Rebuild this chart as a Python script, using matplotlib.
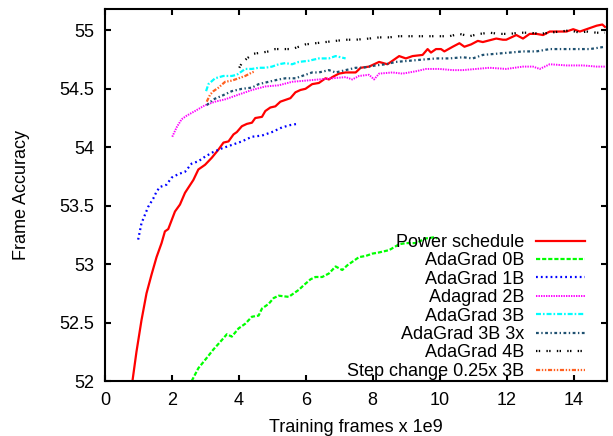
import matplotlib
matplotlib.use('Agg')
import matplotlib.pyplot as plt

plt.rcParams['font.family'] = ['Liberation Sans', 'DejaVu Sans']
plt.rcParams['lines.scale_dashes'] = False

# Power schedule
x_pow = [0.82, 0.94, 1.09, 1.24, 1.39, 1.54, 1.69, 1.79, 1.89, 2.09, 2.24, 2.39, 2.64, 2.79,
         2.99, 3.19, 3.39, 3.54, 3.69, 3.84, 3.94, 4.09, 4.24, 4.39, 4.49, 4.69, 4.79, 4.94,
         5.09, 5.24, 5.54, 5.69, 5.84, 5.99, 6.19, 6.39, 6.59, 6.69, 6.79, 6.99, 7.19, 7.49,
         7.64, 7.89, 8.19, 8.44, 8.59, 8.79, 8.99, 9.19, 9.49, 9.64, 9.74, 9.89, 10.04, 10.14,
         10.39, 10.59, 10.74, 10.94, 11.14, 11.29, 11.69, 11.89, 11.99, 12.29, 12.49, 12.69,
         12.89, 13.09, 13.29, 13.59, 13.79, 13.99, 14.19, 14.49, 14.69, 14.86, 14.94]
y_pow = [52.0, 52.25, 52.52, 52.75, 52.91, 53.06, 53.18, 53.28, 53.30, 53.45, 53.51, 53.61, 53.72, 53.81,
         53.85, 53.91, 53.98, 54.04, 54.05, 54.11, 54.13, 54.18, 54.20, 54.21, 54.25, 54.26, 54.31, 54.34,
         54.35, 54.39, 54.42, 54.47, 54.49, 54.50, 54.54, 54.55, 54.59, 54.58, 54.60, 54.63, 54.64, 54.64,
         54.68, 54.69, 54.73, 54.71, 54.74, 54.78, 54.76, 54.78, 54.79, 54.84, 54.81, 54.84, 54.84, 54.82,
         54.86, 54.89, 54.86, 54.88, 54.91, 54.90, 54.93, 54.92, 54.92, 54.96, 54.93, 54.97,
         54.97, 54.96, 54.99, 54.99, 54.99, 55.01, 54.99, 55.02, 55.04, 55.05, 55.03]

# AdaGrad 0B
x_0b = [2.59, 2.79, 2.99, 3.24, 3.49, 3.64, 3.79, 3.99, 4.19, 4.39, 4.59, 4.69, 4.89, 5.04, 5.19,
        5.49, 5.64, 5.79, 5.94, 6.14, 6.29, 6.49, 6.69, 6.89, 7.09, 7.24, 7.39, 7.59, 7.79, 7.99,
        8.19, 8.49, 8.79, 8.99, 9.29, 9.59, 9.84, 9.93]
y_0b = [52.0, 52.11, 52.18, 52.27, 52.35, 52.40, 52.38, 52.45, 52.49, 52.55, 52.56, 52.62, 52.66, 52.71, 52.73,
        52.72, 52.75, 52.78, 52.82, 52.87, 52.89, 52.89, 52.92, 52.98, 52.95, 52.99, 53.02, 53.06, 53.07, 53.09,
        53.10, 53.12, 53.17, 53.18, 53.18, 53.22, 53.23, 53.22]

# AdaGrad 1B
x_1b = [0.99, 1.04, 1.09, 1.19, 1.29, 1.44, 1.54, 1.64, 1.84, 1.99, 2.19, 2.39, 2.59, 2.79, 2.99,
        3.24, 3.49, 3.79, 4.09, 4.39, 4.69, 4.99, 5.29, 5.54, 5.74]
y_1b = [53.21, 53.28, 53.35, 53.42, 53.49, 53.56, 53.62, 53.66, 53.68, 53.74, 53.77, 53.79, 53.86, 53.88, 53.92,
        53.96, 53.99, 54.02, 54.05, 54.09, 54.10, 54.13, 54.17, 54.19, 54.20]

# Adagrad 2B
x_2b = [2.01, 2.14, 2.29, 2.44, 2.69, 2.99, 3.29, 3.59, 3.99, 4.39, 4.79, 5.19, 5.59, 5.99, 6.39,
        6.79, 7.19, 7.39, 7.59, 7.89, 8.04, 8.19, 8.59, 8.89, 9.29, 9.59, 9.99, 10.39, 10.69, 11.09,
        11.49, 11.99, 12.49, 12.79, 12.99, 13.29, 13.79, 14.29, 14.69, 14.94]
y_2b = [54.09, 54.17, 54.24, 54.27, 54.31, 54.36, 54.39, 54.41, 54.45, 54.49, 54.52, 54.53, 54.56, 54.57, 54.58,
        54.59, 54.60, 54.58, 54.61, 54.62, 54.58, 54.63, 54.64, 54.63, 54.65, 54.67, 54.67, 54.66, 54.66, 54.67,
        54.68, 54.67, 54.69, 54.69, 54.67, 54.71, 54.70, 54.70, 54.69, 54.69]

# AdaGrad 3B
x_3b = [3.02, 3.09, 3.29, 3.54, 3.79, 3.94, 4.09, 4.19, 4.39, 4.59, 4.79, 4.99, 5.19, 5.39, 5.59,
        5.79, 6.09, 6.39, 6.69, 6.89, 7.04, 7.19]
y_3b = [54.48, 54.54, 54.59, 54.61, 54.61, 54.62, 54.65, 54.67, 54.67, 54.68, 54.68, 54.69, 54.71, 54.72, 54.71,
        54.73, 54.74, 54.76, 54.76, 54.78, 54.77, 54.76]

# AdaGrad 3B 3x
x_3x = [3.04, 3.24, 3.49, 3.79, 4.09, 4.39, 4.59, 4.89, 5.19, 5.39, 5.69, 5.99, 6.19, 6.39, 6.69,
        6.89, 7.19, 7.49, 7.69, 8.09, 8.39, 8.69, 9.09, 9.49, 9.89, 10.29, 10.69, 10.99, 11.29, 11.69,
        12.09, 12.49, 12.89, 13.29, 13.69, 14.09, 14.49, 14.94]
y_3x = [54.36, 54.41, 54.44, 54.48, 54.50, 54.51, 54.54, 54.56, 54.58, 54.59, 54.59, 54.62, 54.64, 54.64, 54.66,
        54.64, 54.66, 54.68, 54.68, 54.70, 54.71, 54.73, 54.74, 54.75, 54.76, 54.76, 54.77, 54.76, 54.79, 54.80,
        54.81, 54.82, 54.82, 54.84, 54.84, 54.84, 54.84, 54.86]

# AdaGrad 4B
x_4b = [4.01, 4.09, 4.24, 4.44, 4.69, 4.89, 5.09, 5.39, 5.59, 5.79, 5.99, 6.29, 6.59, 6.89, 7.19,
        7.49, 7.89, 8.19, 8.49, 8.79, 9.09, 9.39, 9.69, 9.99, 10.29, 10.59, 10.89, 11.19, 11.49, 11.79,
        12.09, 12.39, 12.69, 12.99, 13.29, 13.59, 13.89, 14.19, 14.39, 14.69, 14.94]
y_4b = [54.68, 54.72, 54.76, 54.80, 54.81, 54.82, 54.84, 54.84, 54.84, 54.86, 54.88, 54.89, 54.90, 54.91, 54.92,
        54.92, 54.93, 54.94, 54.94, 54.95, 54.95, 54.95, 54.95, 54.95, 54.95, 54.97, 54.95, 54.97, 54.98, 54.97,
        54.97, 54.98, 54.98, 54.97, 54.98, 54.99, 55.00, 54.98, 54.99, 54.98, 54.98]

# Step change 0.25x 3B
x_st = [3.04, 3.14, 3.24, 3.39, 3.59, 3.79, 3.99, 4.19, 4.39, 4.49]
y_st = [54.39, 54.45, 54.48, 54.51, 54.56, 54.57, 54.59, 54.61, 54.64, 54.65]

fig = plt.figure(figsize=(6.13, 4.36), dpi=100)
ax = fig.add_axes([0.1713, 0.1261, 0.8189, 0.8525])

ax.plot(x_pow, y_pow, color='#ff0000', lw=1.6, label='Power schedule')
ax.plot(x_0b, y_0b, color='#00ff00', lw=1.6, dashes=(3, 1.4), label='AdaGrad 0B')
ax.plot(x_1b, y_1b, color='#0000ff', lw=1.6, dashes=(1.3, 2.2), label='AdaGrad 1B')
ax.plot(x_2b, y_2b, color='#ff00ff', lw=1.4, dashes=(1, 0.8), label='Adagrad 2B')
ax.plot(x_3b, y_3b, color='#00ffff', lw=1.6, dashes=(3.6, 1.4, 1.2, 1.4), label='AdaGrad 3B')
ax.plot(x_3x, y_3x, color='#1e5070', lw=1.6, dashes=(2, 1.8, 1, 1.8), label='AdaGrad 3B 3x')
ax.plot(x_4b, y_4b, color='#000000', lw=1.6, dashes=(1, 1, 1, 4.5), label='AdaGrad 4B')
ax.plot(x_st, y_st, color='#ff6020', lw=1.6, dashes=(3, 1.2, 1, 1.2, 1, 1.2), label='Step change 0.25x 3B')

ax.set_xlim(0, 15)
ax.set_ylim(52, 55.18)
ax.set_xticks([0, 2, 4, 6, 8, 10, 12, 14])
ax.set_yticks([52, 52.5, 53, 53.5, 54, 54.5, 55])
ax.set_yticklabels(['52', '52.5', '53', '53.5', '54', '54.5', '55'])
ax.tick_params(direction='in', length=4.5, width=1.5, labelsize=13,
               top=True, right=True, pad=8)
for sp in ax.spines.values():
    sp.set_linewidth(1.5)

ax.set_xlabel('Training frames x 1e9', fontsize=13, labelpad=7)
ax.set_ylabel('Frame Accuracy', fontsize=13, labelpad=21)

ax.legend(loc='upper right', bbox_to_anchor=(0.956, 0.396), frameon=False,
          markerfirst=False, fontsize=13, handlelength=2.7, handletextpad=0.66,
          labelspacing=0.08, borderpad=0, borderaxespad=0)

fig.savefig('out.png', dpi=100)
